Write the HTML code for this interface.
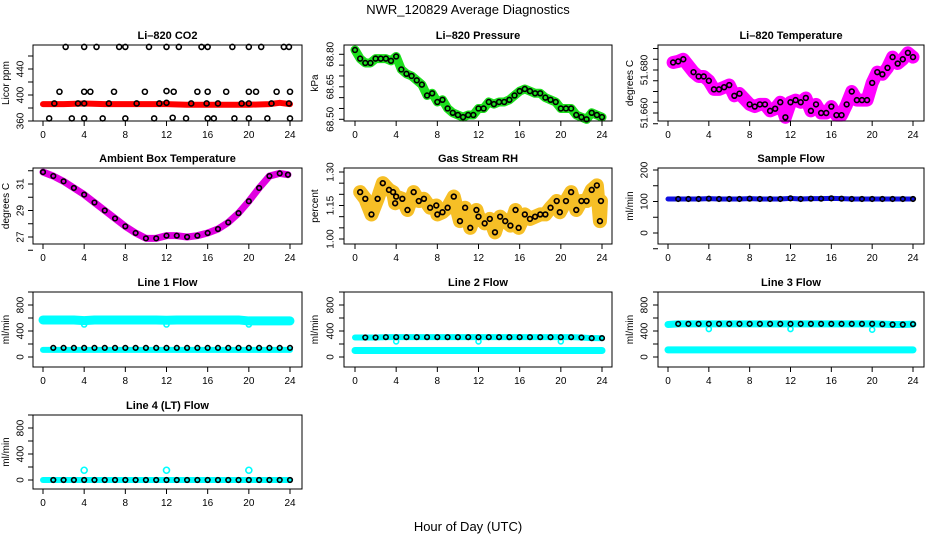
<!DOCTYPE html>
<html><head><meta charset="utf-8"><style>
body{margin:0;background:#fff;width:936px;height:540px;overflow:hidden}
svg{display:block;font-family:"Liberation Sans",sans-serif}
</style></head><body>
<svg id="c" width="936" height="540" viewBox="0 0 936 540">
<text x="468" y="14" text-anchor="middle" font-size="13">NWR_120829  Average Diagnostics</text>
<text x="468" y="531" text-anchor="middle" font-size="13">Hour of Day (UTC)</text>
</svg>
<script>
// ---- data ----
const xTicks=[0,4,8,12,16,20,24];
const co2RedT=[0,2,4,6,8,10,12,14,16,18,20,22,23,24];
const co2RedV=[386,386,387,386,386,386,386,385,385,385,385,386,388,386];
const co2BlackT=[2.2,4,5.2,7.4,8,10.3,12,13.2,15.4,16,18.4,20,21.2,23.4,23.9, 1.6,4,4.6,6.9,9.9,12,12.7,15,16,17.8,20,20.7,22.7,24, 0.6,2.8,4,5.8,8,10.8,12.6,13.9,16,16.6,18.6,20,21.8,24, 1.1,3.4,4,6.4,9.1,11.3,12,14.4,15.9,17,19.3,20,22.2,23.9];
const co2BlackV=[474,474,474,474,474,474,474,474,474,474,474,474,474,474,474, 405,405,405,405,405,406,405,405,405,405,405,405,405,405, 364,364,364,364,364,364,365,364,364,364,364,364,364,364, 387,387,387,387,387,387,388,387,387,387,387,387,387,387];
const presT=[0,0.5,1,1.5,2,2.5,3,3.5,4,4.5,5,5.5,6,6.5,7,7.5,8,8.5,9,9.5,10,10.5,11,11.5,12,12.5,13,13.5,14,14.5,15,15.5,16,16.5,17,17.5,18,18.5,19,19.5,20,20.5,21,21.5,22,22.5,23,23.5,24];
const presV=[68.82,68.78,68.76,68.76,68.78,68.78,68.78,68.77,68.79,68.73,68.71,68.70,68.68,68.66,68.61,68.62,68.58,68.59,68.55,68.53,68.52,68.51,68.52,68.52,68.55,68.55,68.58,68.57,68.58,68.58,68.59,68.61,68.63,68.64,68.63,68.62,68.62,68.60,68.59,68.58,68.55,68.55,68.55,68.52,68.51,68.50,68.53,68.52,68.51];
const ltT=[0.5,1,1.5,2.5,3,3.5,4,4.5,5,5.5,6,6.5,7,8,8.5,9,9.5,10,10.5,11,11.5,12,12.5,13,13.5,14,14.5,15,15.5,16,16.5,17,17.5,18,18.5,19,19.5,20,20.5,21,21.5,22,22.5,23,23.5,24];
const ltV=[51.6835,51.684,51.685,51.679,51.677,51.677,51.675,51.671,51.671,51.672,51.673,51.668,51.669,51.664,51.663,51.664,51.664,51.661,51.662,51.665,51.658,51.665,51.666,51.665,51.667,51.661,51.664,51.660,51.660,51.663,51.659,51.659,51.664,51.670,51.666,51.666,51.666,51.674,51.679,51.678,51.681,51.686,51.683,51.685,51.688,51.686];
const ambT=[0,1,2,3,4,5,6,7,8,9,10,11,12,13,14,15,16,17,18,19,20,21,22,23,23.8];
const ambV=[31.9,31.6,31.2,30.7,30.2,29.6,29.0,28.4,27.8,27.3,26.9,26.9,27.1,27.1,27.0,27.1,27.3,27.6,28.1,28.8,29.7,30.7,31.6,31.8,31.7];
const rhT=[0.5,1,1.6,2.2,2.7,3.3,3.7,3.9,4,4.6,5.1,5.7,6.2,6.7,7.3,7.9,8,8.5,9,9.6,10.2,10.7,11.2,11.8,12,12.6,13.1,13.6,14.1,14.6,15.1,15.6,15.9,16.5,17,17.5,18,18.5,19,19.6,19.9,20.5,21,21.5,22,22.5,23,23.5,23.8,23.9];
const rhV=[1.21,1.18,1.11,1.18,1.25,1.22,1.21,1.16,1.19,1.18,1.13,1.21,1.17,1.18,1.14,1.15,1.11,1.12,1.14,1.19,1.08,1.14,1.05,1.13,1.10,1.07,1.09,1.03,1.10,1.08,1.06,1.13,1.05,1.11,1.09,1.10,1.11,1.11,1.14,1.17,1.12,1.17,1.21,1.13,1.17,1.17,1.22,1.24,1.08,1.17];
const hours=[0,1,2,3,4,5,6,7,8,9,10,11,12,13,14,15,16,17,18,19,20,21,22,23,24];
const sampleV=[108,108,108,108,109,108,108,108,109,108,108,108,110,108,109,109,110,109,108,108,108,108,108,108,108];
const l1High=[570,570,570,570,560,570,570,570,570,570,570,570,565,570,570,570,570,570,570,570,555,555,555,555,555];
const l1Low=[110,110,110,110,110,110,110,110,110,110,110,110,110,110,110,110,110,110,110,110,110,110,110,110,110];
const l1Black=[140,140,140,140,140,140,140,140,140,140,140,140,140,140,140,140,140,140,140,140,140,140,140,140,140];
const l2Low=[100,100,100,100,100,100,100,100,100,100,100,100,100,100,100,100,100,100,100,100,100,100,100,100,100];
const l2Black=[300,300,300,305,305,305,305,305,305,305,305,305,305,305,305,305,305,305,305,305,305,305,300,290,290];
const l3Low=[110,110,110,110,110,110,110,110,110,110,110,110,110,110,110,110,110,110,110,110,110,110,110,110,110];
const l3Black=[500,510,510,510,510,510,510,510,510,510,510,510,510,510,510,510,510,510,510,510,510,505,500,500,505];
const l4Black=[0,0,0,0,0,0,0,0,0,0,0,0,0,0,0,0,0,0,0,0,0,0,0,0,0];
const spikeT=[4,12,20];
const l1Spike=[500,500,500];
const l2Spike=[240,240,240];
const l3Spike=[430,430,420];
const l4Spike=[150,150,150];
const presTicks=[68.5,68.55,68.6,68.65,68.7,68.75,68.8];
const presLabels=['68.50','68.65','68.80'];
const ltTicks=[51.655,51.66,51.665,51.67,51.675,51.68,51.685,51.69];
const ltLabels=['51.660','51.680'];
const rhTicks=[1.0,1.05,1.1,1.15,1.2,1.25,1.3];
const rhLabels=['1.00','1.15','1.30'];

// ---- layout ----
const NS='http://www.w3.org/2000/svg';
const svg=document.getElementById('c');
const cols=[{L:33,R:302,x0:43,x1:290,tl:21,tt:9},{L:344,R:612,x0:355,x1:602,tl:331,tt:318},{L:658,R:924,x0:668,x1:913,tl:645,tt:633}];
const rows=[{T:45,B:121},{T:168,B:244},{T:292,B:367},{T:415,B:489}];
function mk(tag,attrs,parent){const e=document.createElementNS(NS,tag);for(const k in attrs)e.setAttribute(k,attrs[k]);(parent||svg).appendChild(e);return e;}
function panel(r,c,title,ytitle,yv0,yp0,yv1,yp1,yticks,ylabels,name){
  const C=cols[c],R=rows[r];
  const g=mk('g',{});
  
  
  const X=t=>C.x0+(C.x1-C.x0)*t/24;
  const Y=v=>yp0+(yp1-yp0)*(v-yv0)/(yv1-yv0);
  const t=mk('text',{x:(C.L+C.R)/2,y:R.T-6,'text-anchor':'middle','font-size':11,'font-weight':'bold'},g);t.textContent=title;
  
  
  const yt=mk('text',{x:C.tt,y:(R.T+R.B)/2,'text-anchor':'middle','font-size':10,transform:`rotate(-90 ${C.tt} ${(R.T+R.B)/2})`},g);yt.textContent=ytitle;
  
  
  const marks=mk('g',{},g);
  
  
  mk('rect',{x:C.L,y:R.T,width:C.R-C.L,height:R.B-R.T,fill:'none',stroke:'#000'},g);
  xTicks.forEach(v=>{mk('line',{x1:X(v),x2:X(v),y1:R.B,y2:R.B+5,stroke:'#000'},g);
    const l=mk('text',{x:X(v),y:R.B+17,'text-anchor':'middle','font-size':10},g);l.textContent=v;
    
    });
  yticks.forEach(v=>{mk('line',{x1:C.L-5,x2:C.L,y1:Y(v),y2:Y(v),stroke:'#000'},g);});
  ylabels.forEach(v=>{const yy=Y(+v);const l=mk('text',{x:C.tl,y:yy,'text-anchor':'middle','font-size':10,'dominant-baseline':'central',transform:`rotate(-90 ${C.tl} ${yy})`},g);l.textContent=v;
    
    });
  return {X,Y,g:marks};
}
function band(p,T,V,color,w,op){mk('polyline',{points:T.map((t,i)=>p.X(t)+','+p.Y(V[i])).join(' '),fill:'none',stroke:color,'stroke-width':w,'stroke-linejoin':'round','stroke-linecap':'round','stroke-opacity':op||1},p.g);}
function pts(p,T,V,color,r,sw){T.forEach((t,i)=>{const c=mk('circle',{cx:p.X(t),cy:p.Y(V[i]),r:r||2.5,fill:'none',stroke:color,'stroke-width':sw||1.6},p.g);
  
  });}

// 1 CO2
let p=panel(0,0,'Li–820 CO2','Licor ppm',360,121,440,69,[360,380,400,420,440,460],[360,400,440],'panel-co2');
band(p,co2RedT,co2RedV,'#f00',6);pts(p,co2BlackT,co2BlackV,'#000');
// 2 Pressure
p=panel(0,1,'Li–820 Pressure','kPa',68.5,119.3,68.8,54.3,presTicks,presLabels,'panel-pressure');
band(p,presT,presV,'#1ee01e',9);pts(p,presT,presV,'#000',2.4);
// 3 Li temp
p=panel(0,2,'Li–820 Temperature','degrees C',51.66,113,51.68,70,ltTicks,ltLabels,'panel-li-temperature');
band(p,ltT,ltV,'#f0f',13);pts(p,ltT,ltV,'#f0f',3,1.5);pts(p,ltT,ltV,'#000',2.4);
// 4 Ambient
p=panel(1,0,'Ambient Box Temperature','degrees C',27,237,31,184,[26,27,28,29,30,31,32],[27,29,31],'panel-ambient');
band(p,ambT,ambV,'#e000e0',7);pts(p,ambT,ambV,'#000',2.3);
// 5 RH
p=panel(1,1,'Gas Stream RH','percent',1.0,239,1.3,172,rhTicks,rhLabels,'panel-rh');
band(p,rhT,rhV,'#f5b400',14,0.85);pts(p,rhT,rhV,'#e04000',2,1);pts(p,rhT,rhV,'#000',2.4);
// 6 Sample flow
p=panel(1,2,'Sample Flow','ml/min',0,233,200,170,[-50,0,50,100,150,200],[0,100,200],'panel-sample-flow');
band(p,hours,sampleV,'#1010e0',5);pts(p,hours.slice(1),sampleV.slice(1),'#000',2.3);
// flows
const yt=[0,200,400,600,800,1000],yl=[0,400,800];
function flow(r,c,title,name,zero){return panel(r,c,title,'ml/min',0,zero,400,zero-26,yt,yl,name);}
p=flow(2,0,'Line 1 Flow','panel-line1',357);
band(p,hours,l1High,'#0ff',9);band(p,hours,l1Low,'#0ff',6);pts(p,spikeT,l1Spike,'#0ff',2.5);pts(p,hours.slice(1),l1Black,'#000',2.3);
p=flow(2,1,'Line 2 Flow','panel-line2',357);
band(p,hours,l2Low,'#0ff',7);band(p,hours,l2Black,'#0ff',6);pts(p,spikeT,l2Spike,'#0ff',2.5);pts(p,hours.slice(1),l2Black.slice(1),'#000',2.3);
p=flow(2,2,'Line 3 Flow','panel-line3',357);
band(p,hours,l3Low,'#0ff',7);band(p,hours,l3Black,'#0ff',7);pts(p,spikeT,l3Spike,'#0ff',2.5);pts(p,hours.slice(1),l3Black.slice(1),'#000',2.3);
p=flow(3,0,'Line 4 (LT) Flow','panel-line4',480);
band(p,hours,l4Black,'#0ff',6);pts(p,spikeT,l4Spike,'#0ff',3);pts(p,hours.slice(1),l4Black.slice(1),'#000',2.3);
</script>
</body></html>
